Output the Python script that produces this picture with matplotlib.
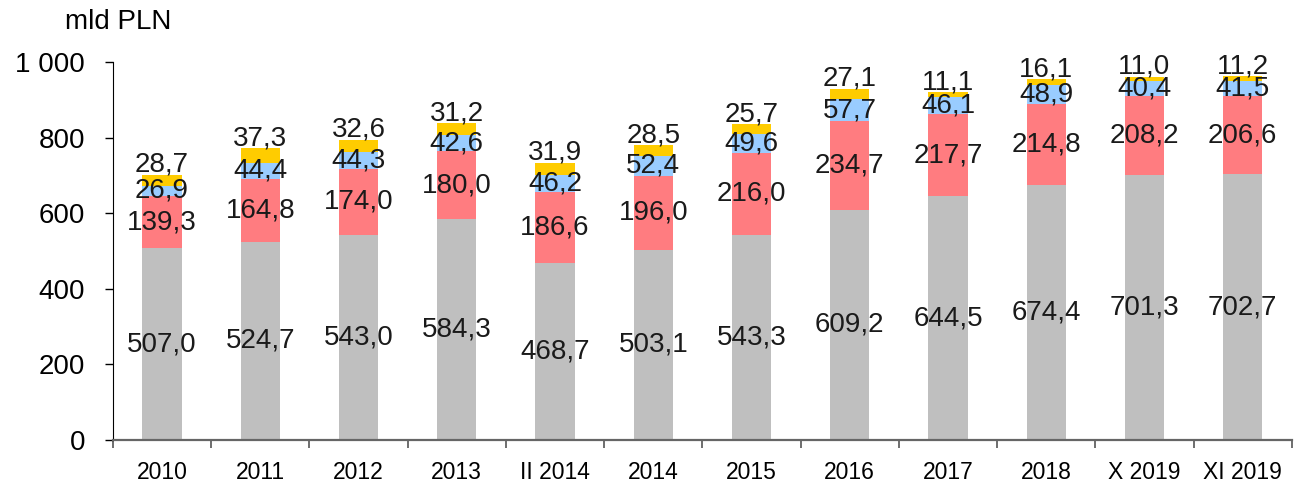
import matplotlib
matplotlib.use("Agg")
import matplotlib.pyplot as plt
import numpy as np
from matplotlib.ticker import FuncFormatter, FixedLocator, NullFormatter

plt.rcParams['font.family'] = ['Liberation Sans', 'DejaVu Sans']

categories = ["2010", "2011", "2012", "2013", "II 2014", "2014", "2015",
              "2016", "2017", "2018", "X 2019", "XI 2019"]
gray_vals = [507.0, 524.7, 543.0, 584.3, 468.7, 503.1, 543.3, 609.2, 644.5, 674.4, 701.3, 702.7]
red_vals = [139.3, 164.8, 174.0, 180.0, 186.6, 196.0, 216.0, 234.7, 217.7, 214.8, 208.2, 206.6]
blue_vals = [26.9, 44.4, 44.3, 42.6, 46.2, 52.4, 49.6, 57.7, 46.1, 48.9, 40.4, 41.5]
yellow_vals = [28.7, 37.3, 32.6, 31.2, 31.9, 28.5, 25.7, 27.1, 11.1, 16.1, 11.0, 11.2]

series = [gray_vals, red_vals, blue_vals, yellow_vals]
colors = ["#BFBFBF", "#FF7C80", "#99CCFF", "#FFCC00"]


def pl(v):
    return "{:.1f}".format(v).replace(".", ",")


fig = plt.figure(figsize=(12.97, 4.88), dpi=100)
ax = fig.add_axes([0.0871, 0.0984, 0.9089, 0.7746])

x = np.arange(len(categories))
bottom = np.zeros(len(categories))
for i, (vals, col) in enumerate(zip(series, colors)):
    vals = np.array(vals)
    ax.bar(x, vals, width=0.4, bottom=bottom, color=col, zorder=2)
    for xi, b, v in zip(x, bottom, vals):
        if i < 3:
            ax.text(xi, b + v / 2, pl(v), ha="center", va="center",
                    fontsize=20, color="#1a1a1a", zorder=3)
        else:
            # top labels sit a little above the bar end
            ax.annotate(pl(v), (xi, b + v), xytext=(0, 10), textcoords="offset pixels",
                        ha="center", va="center", fontsize=20, color="#1a1a1a",
                        annotation_clip=False, zorder=3)
    bottom = bottom + vals

ax.set_xlim(-0.5, len(categories) - 0.5)
ax.set_ylim(0, 1000)
ax.set_yticks(np.arange(0, 1001, 200))
ax.yaxis.set_major_formatter(FuncFormatter(
    lambda v, p: "{:,.0f}".format(v).replace(",", " ")))
ax.tick_params(axis="y", labelsize=20, length=6, width=1, direction="out",
               colors="black", pad=14)

# category labels centred, ticks on the boundaries
ax.xaxis.set_major_locator(FixedLocator(np.arange(-0.5, len(categories), 1.0)))
ax.xaxis.set_major_formatter(NullFormatter())
ax.xaxis.set_minor_locator(FixedLocator(x))
ax.set_xticklabels(categories, minor=True)
ax.tick_params(axis="x", which="major", length=6, width=1.2, color="#555555")
ax.tick_params(axis="x", which="minor", length=0, labelsize=16.5, pad=15)

for s in ["top", "right"]:
    ax.spines[s].set_visible(False)
ax.spines["left"].set_color("black")
ax.spines["bottom"].set_color("#666666")
ax.spines["bottom"].set_linewidth(1.6)

fig.text(0.05, 0.955, "mld PLN", fontsize=20, ha="left", va="center")

plt.savefig("out.png", dpi=100)
